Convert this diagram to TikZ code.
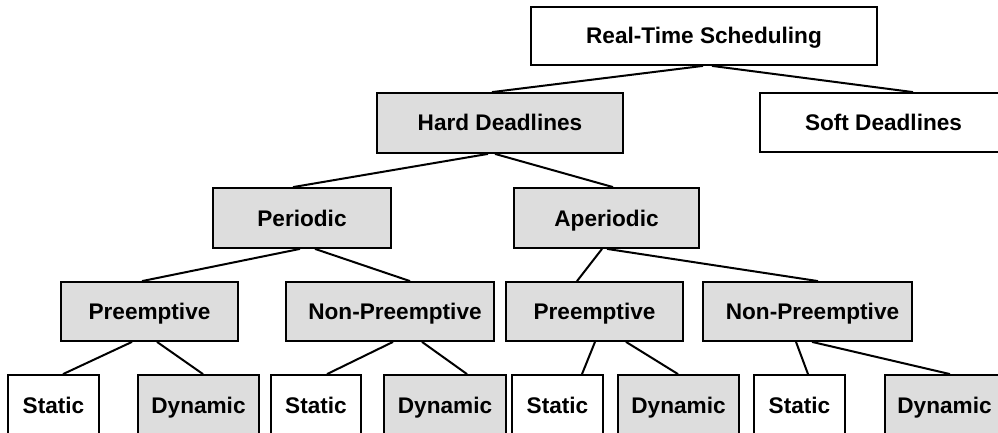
\documentclass[tikz,border=0pt]{standalone}
\usepackage{fontspec}
\setmainfont{Liberation Sans}
\definecolor{boxgray}{RGB}{221,221,221}
\begin{document}
\begin{tikzpicture}[x=1pt,y=-1pt,
  box/.style={draw=black,line width=1.8pt,inner sep=0pt,
    text height=16pt,text depth=0pt,
    font=\fontsize{22.6}{26}\selectfont\bfseries,text=black},
  plainbox/.style={box,fill=white},
  greybox/.style={box,fill=boxgray},
  link/.style={draw=black,line width=2pt}]
\useasboundingbox (0,0) rectangle (998,433);
\clip (0,0) rectangle (998,433);

% level 0 and 1
\node[plainbox,minimum width=346pt,minimum height=58pt] (root) at (704,36) {Real-Time Scheduling};
\node[greybox,minimum width=246pt,minimum height=60pt] (hard) at (500,123) {Hard Deadlines};
\node[plainbox,minimum width=247pt,minimum height=59pt] (soft) at (883.5,122.5) {Soft Deadlines};

% level 2
\node[greybox,minimum width=178pt,minimum height=60pt] (periodic) at (302,218) {Periodic};
\node[greybox,minimum width=185pt,minimum height=60pt] (aperiodic) at (606.5,218) {Aperiodic};

% level 3
\node[greybox,minimum width=177pt,minimum height=59pt] (preA) at (149.5,311.5) {Preemptive};
\node[greybox,minimum width=208pt,minimum height=59pt] (npA) at (390,311.5) {\hspace*{10pt}Non-Preemptive};
\node[greybox,minimum width=177pt,minimum height=59pt] (preB) at (594.5,311.5) {Preemptive};
\node[greybox,minimum width=209pt,minimum height=59pt] (npB) at (807.5,311.5) {\hspace*{10pt}Non-Preemptive};

% level 4
\node[plainbox,minimum width=91pt,minimum height=60pt] (stA) at (53.5,405) {Static};
\node[greybox,minimum width=121pt,minimum height=60pt] (dyA) at (198.5,405) {Dynamic};
\node[plainbox,minimum width=90pt,minimum height=60pt] (stB) at (316,405) {Static};
\node[greybox,minimum width=122pt,minimum height=60pt] (dyB) at (445,405) {Dynamic};
\node[plainbox,minimum width=91pt,minimum height=60pt] (stC) at (557.5,405) {Static};
\node[greybox,minimum width=121pt,minimum height=60pt] (dyC) at (678.5,405) {Dynamic};
\node[plainbox,minimum width=91pt,minimum height=60pt] (stD) at (799.5,405) {Static};
\node[greybox,minimum width=119pt,minimum height=60pt] (dyD) at (944.5,405) {Dynamic};

% connectors
\draw[link] ([xshift=-1pt]root.south) -- ([xshift=-8pt]hard.north);
\draw[link] ([xshift=8pt]root.south) -- ([xshift=29.5pt]soft.north);
\draw[link] ([xshift=-12pt]hard.south) -- ([xshift=-9pt]periodic.north);
\draw[link] ([xshift=-5pt]hard.south) -- ([xshift=6.5pt]aperiodic.north);
\draw[link] ([xshift=-2pt]periodic.south) -- ([xshift=-7.5pt]preA.north);
\draw[link] ([xshift=13pt]periodic.south) -- ([xshift=20pt]npA.north);
\draw[link] ([xshift=-4.5pt]aperiodic.south) -- ([xshift=-17.5pt]preB.north);
\draw[link] ([xshift=0.5pt]aperiodic.south) -- ([xshift=10.5pt]npB.north);
\draw[link] ([xshift=-17.5pt]preA.south) -- ([xshift=9.5pt]stA.north);
\draw[link] ([xshift=7.5pt]preA.south) -- ([xshift=4.5pt]dyA.north);
\draw[link] ([xshift=3pt]npA.south) -- ([xshift=11pt]stB.north);
\draw[link] ([xshift=32pt]npA.south) -- ([xshift=22pt]dyB.north);
\draw[link] ([xshift=0.5pt]preB.south) -- ([xshift=24.5pt]stC.north);
\draw[link] ([xshift=31.5pt]preB.south) -- ([xshift=-0.5pt]dyC.north);
\draw[link] ([xshift=-11.5pt]npB.south) -- ([xshift=8.5pt]stD.north);
\draw[link] ([xshift=4.5pt]npB.south) -- ([xshift=5.5pt]dyD.north);
\end{tikzpicture}
\end{document}
